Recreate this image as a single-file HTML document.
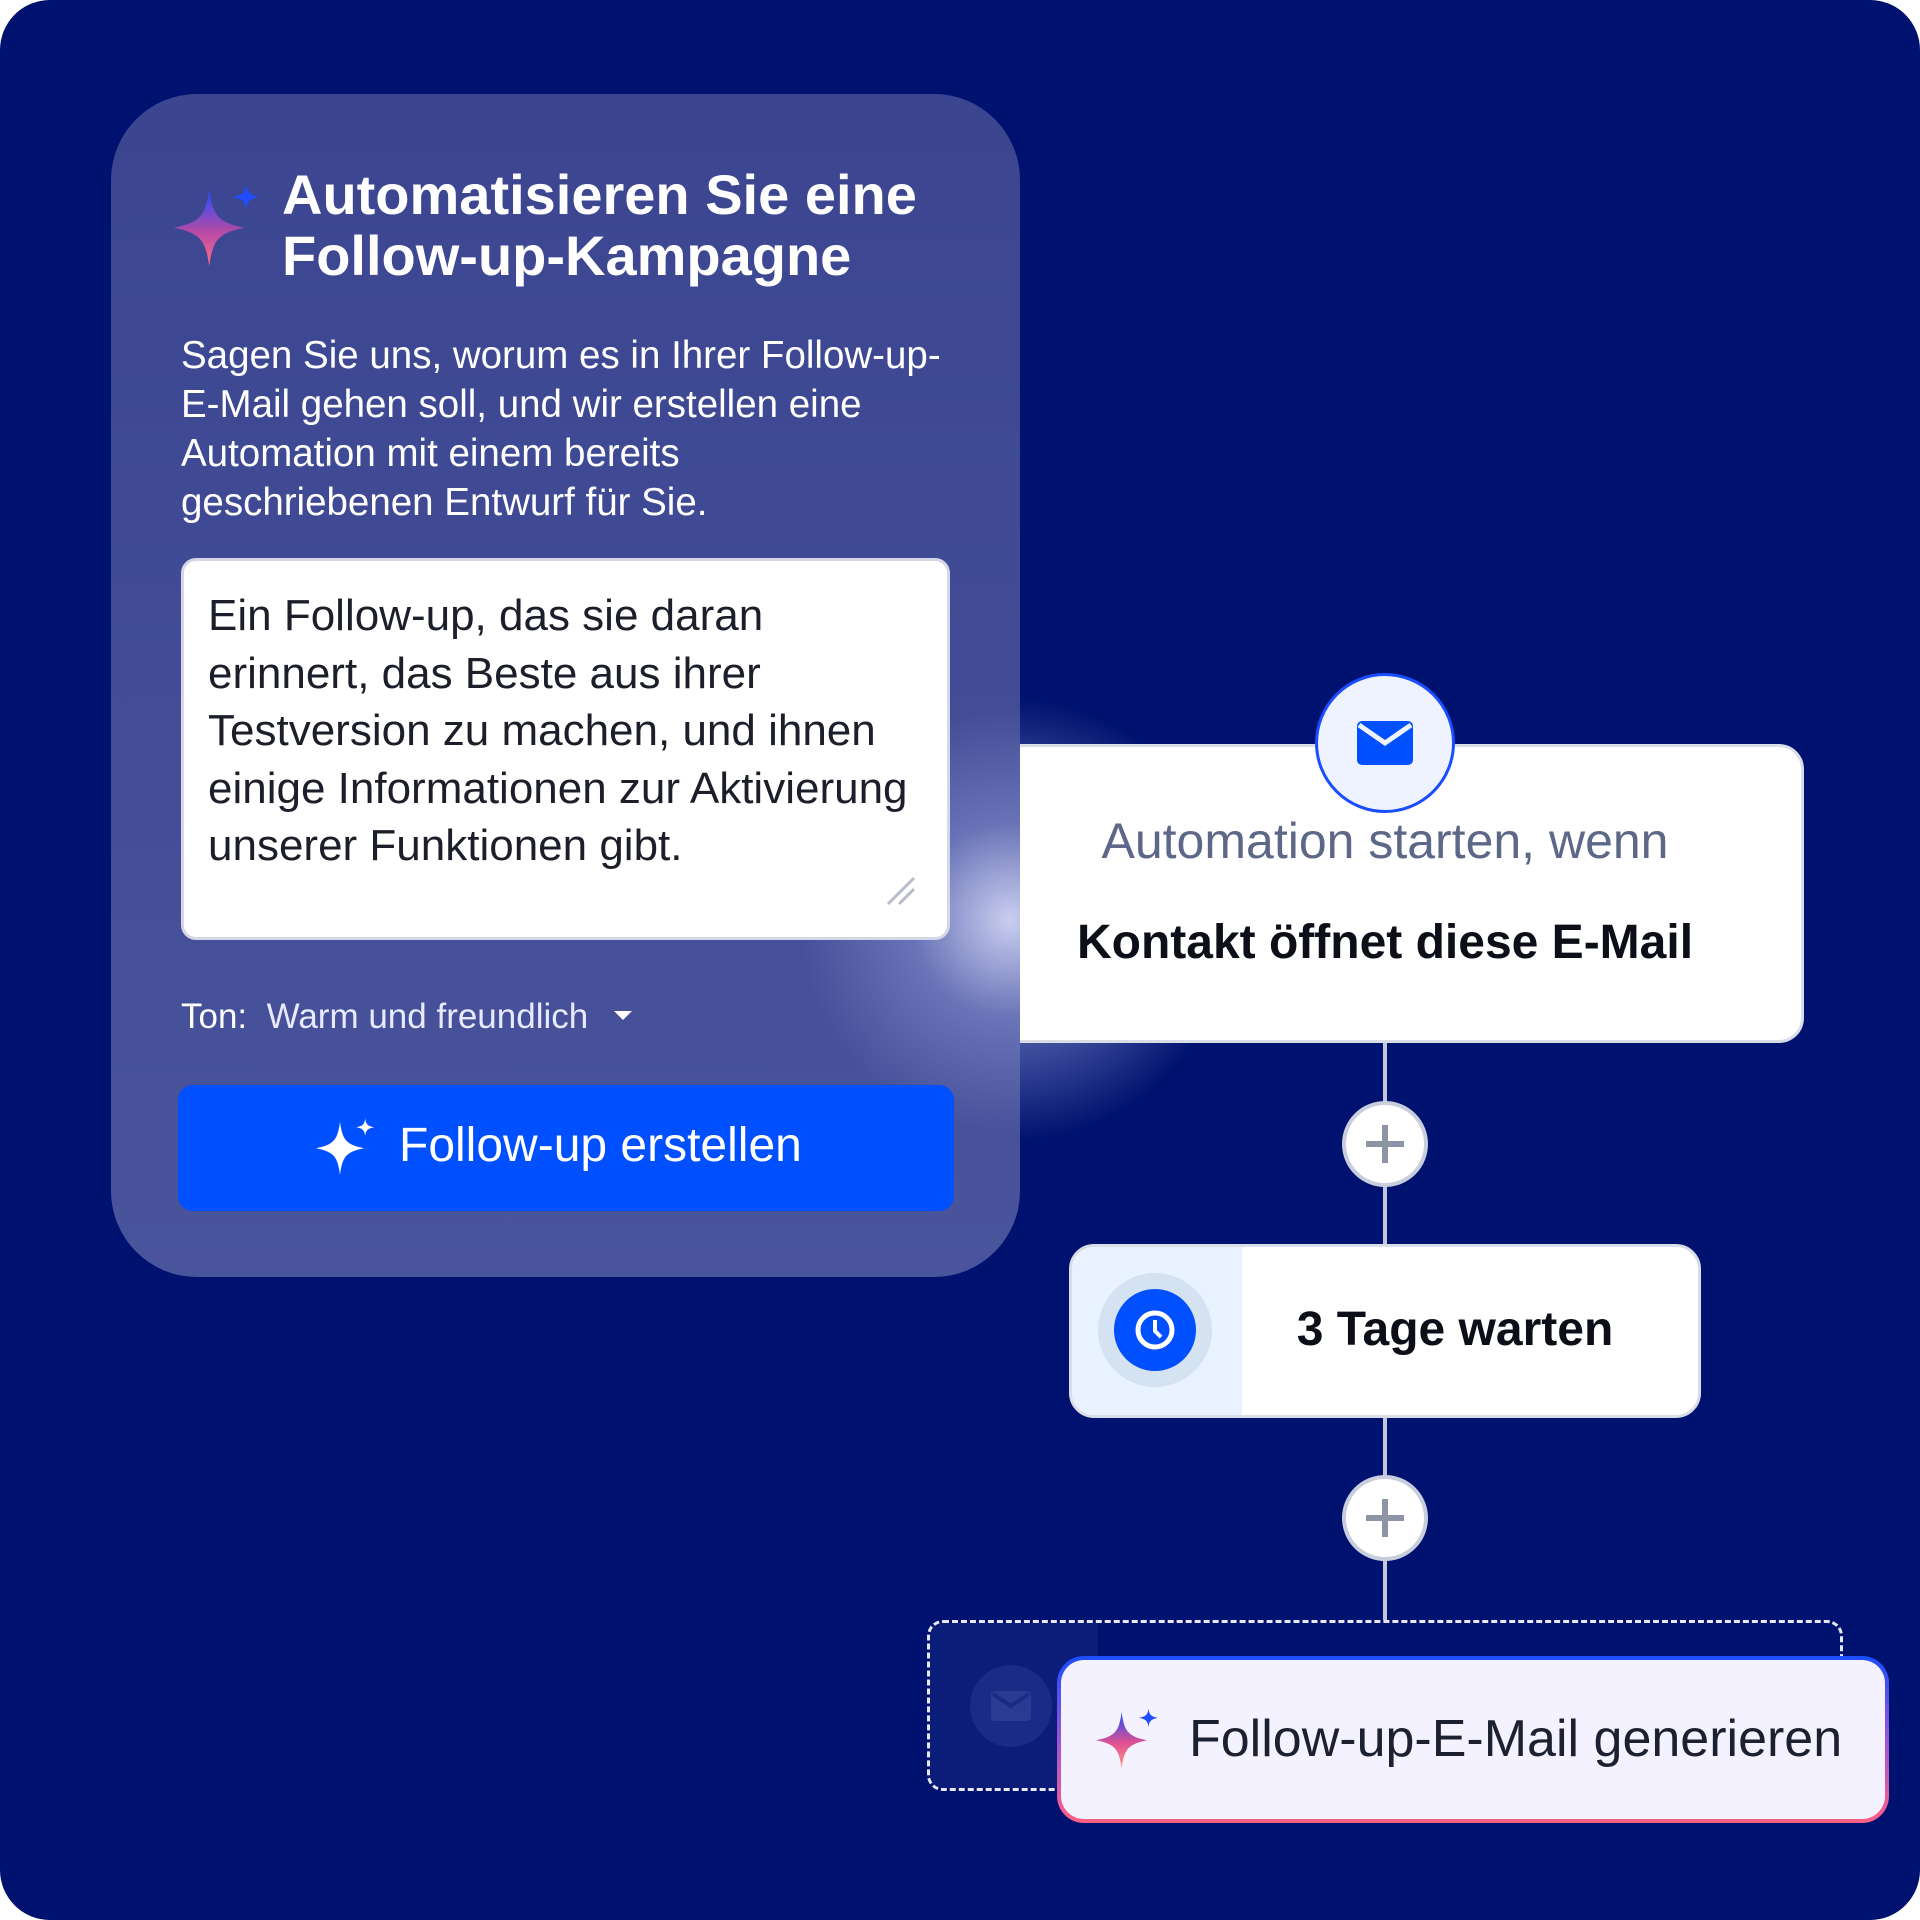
<!DOCTYPE html>
<html><head><meta charset="utf-8"><style>
*{margin:0;padding:0;box-sizing:border-box}
html,body{width:1920px;height:1920px;background:#fff;overflow:hidden}
body{font-family:"Liberation Sans",sans-serif}
.bg{position:absolute;left:0;top:0;width:1920px;height:1920px;background:#00126f;border-radius:50px;overflow:hidden}
.abs{position:absolute}
.panel{left:111px;top:94px;width:909px;height:1183px;border-radius:86px;background:linear-gradient(#3b4590,#49549c);overflow:hidden}
.title{left:282px;top:164px;color:#fff;font-weight:bold;font-size:56px;line-height:61px}
.para{left:181px;top:331px;color:#fff;font-size:38.5px;line-height:49px;width:820px;white-space:nowrap}
.ta{left:181px;top:558px;width:769px;height:382px;background:#fff;border-radius:15px;border:3px solid #d4d8e6}
.tat{left:208px;top:587px;color:#1c1f2a;font-size:44px;line-height:57.5px;width:740px;white-space:nowrap}
.btn{left:178px;top:1085px;width:776px;height:126px;background:#0050ff;border-radius:15px}
.line{background:#c2c7d8;width:4px}
.plus{width:86px;height:86px;border-radius:50%;background:#fff;border:4px solid #c9cedc}
.card{background:#fff;border-radius:25px;border:3px solid #d9dde8}
</style></head><body>
<div class="bg">
 <div class="abs" style="left:780px;top:690px;width:460px;height:460px;border-radius:50%;background:radial-gradient(circle,rgba(235,238,255,.9) 0%,rgba(170,178,235,.5) 30%,rgba(60,70,160,0) 68%)"></div>
 <div class="abs panel"><div style="position:absolute;left:669px;top:596px;width:460px;height:460px;border-radius:50%;background:radial-gradient(circle,rgba(225,228,255,.85) 0%,rgba(150,158,220,.45) 30%,rgba(60,70,160,0) 65%)"></div></div>
 <svg class="abs" style="left:174px;top:182px" width="88" height="88" viewBox="0 0 100 100"><defs><linearGradient id="g1" x1="0" y1="0" x2="0" y2="1"><stop offset="0" stop-color="#1f4dff"/><stop offset=".55" stop-color="#b54aa6"/><stop offset="1" stop-color="#ff6f8a"/></linearGradient></defs><path d="M40 8 C44 38 50 46 80 52 C50 58 44 66 40 96 C36 66 30 58 0 52 C30 46 36 38 40 8Z" fill="url(#g1)"/><path d="M82 2 C83 12 86 15 97 17 C86 19 83 22 82 32 C81 22 78 19 67 17 C78 15 81 12 82 2Z" fill="#1f4dff"/></svg>
 <div class="abs title">Automatisieren Sie eine<br>Follow-up-Kampagne</div>
 <div class="abs para">Sagen Sie uns, worum es in Ihrer Follow-up-<br>E-Mail gehen soll, und wir erstellen eine<br>Automation mit einem bereits<br>geschriebenen Entwurf für Sie.</div>
 <div class="abs ta"></div>
 <div class="abs tat">Ein Follow-up, das sie daran<br>erinnert, das Beste aus ihrer<br>Testversion zu machen, und ihnen<br>einige Informationen zur Aktivierung<br>unserer Funktionen gibt.</div>
 <svg class="abs" style="left:884px;top:874px" width="34" height="34"><path d="M4 30 L30 4 M15 30 L30 15" stroke="#b9bdca" stroke-width="3"/></svg>
 <div class="abs" style="left:181px;top:996px;color:#fff;font-size:35px;line-height:42px;white-space:nowrap">Ton:&nbsp; <span style="color:#e8eaff">Warm und freundlich</span></div>
 <div class="abs" style="left:614px;top:1011px;width:0;height:0;border-left:9px solid transparent;border-right:9px solid transparent;border-top:9px solid #fff"></div>
 <div class="abs btn"></div>
 <svg class="abs" style="left:316px;top:1117px" width="60" height="60" viewBox="0 0 100 100"><path d="M40 8 C44 38 50 46 80 52 C50 58 44 66 40 96 C36 66 30 58 0 52 C30 46 36 38 40 8Z" fill="#fff"/><path d="M82 2 C83 12 86 15 97 17 C86 19 83 22 82 32 C81 22 78 19 67 17 C78 15 81 12 82 2Z" fill="#fff"/></svg>
 <div class="abs" style="left:399px;top:1118px;color:#fff;font-size:48px;line-height:56px;white-space:nowrap">Follow-up erstellen</div>

 <div class="abs line" style="left:1383px;top:1040px;height:580px"></div>

 <div class="abs card" style="left:1020px;top:744px;width:784px;height:299px;border-left:none;border-top-left-radius:0;border-bottom-left-radius:0"></div>
 <div class="abs" style="left:1315px;top:673px;width:140px;height:140px;border-radius:50%;background:#eef3ff;border:3px solid #1a4dff"></div>
 <svg class="abs" style="left:1355px;top:719px" width="60" height="48" viewBox="0 0 60 48"><rect x="2" y="2" width="56" height="44" rx="5" fill="#0050ff"/><path d="M4 6 L30 24 L56 6" stroke="#eef3ff" stroke-width="5" fill="none"/></svg>
 <div class="abs" style="left:985px;top:812px;width:800px;text-align:center;color:#5d6787;font-size:50px;line-height:58px;white-space:nowrap">Automation starten, wenn</div>
 <div class="abs" style="left:985px;top:915px;width:800px;text-align:center;color:#0d0f18;font-size:48px;font-weight:bold;line-height:56px;white-space:nowrap">Kontakt öffnet diese E-Mail</div>

 <div class="abs plus" style="left:1342px;top:1101px"></div>
 <div class="abs" style="left:1366px;top:1141px;width:38px;height:6px;background:#8d94a6"></div>
 <div class="abs" style="left:1382px;top:1125px;width:6px;height:38px;background:#8d94a6"></div>

 <div class="abs card" style="left:1069px;top:1244px;width:632px;height:174px;overflow:hidden"><div style="position:absolute;left:0;top:0;width:170px;height:100%;background:#e9f3ff"></div></div>
 <div class="abs" style="left:1098px;top:1273px;width:114px;height:114px;border-radius:50%;background:#d5e2f1"></div>
 <div class="abs" style="left:1114px;top:1289px;width:82px;height:82px;border-radius:50%;background:#0050ff"></div>
 <svg class="abs" style="left:1133px;top:1308px" width="44" height="44" viewBox="0 0 44 44"><circle cx="22" cy="22" r="17" stroke="#fff" stroke-width="5" fill="none"/><path d="M22 12 L22 23 L28 29" stroke="#fff" stroke-width="4" fill="none"/></svg>
 <div class="abs" style="left:1224px;top:1302px;width:462px;text-align:center;color:#0d0f18;font-size:48px;font-weight:bold;line-height:56px">3 Tage warten</div>

 <div class="abs plus" style="left:1342px;top:1475px"></div>
 <div class="abs" style="left:1366px;top:1515px;width:38px;height:6px;background:#8d94a6"></div>
 <div class="abs" style="left:1382px;top:1499px;width:6px;height:38px;background:#8d94a6"></div>

 <div class="abs" style="left:927px;top:1620px;width:916px;height:171px;border:3px dashed #e6e9f5;border-radius:16px;overflow:hidden"><div style="position:absolute;left:0;top:0;width:168px;height:100%;background:#0c1c79"></div></div>
 <div class="abs" style="left:970px;top:1665px;width:82px;height:82px;border-radius:50%;background:#1a2a86"></div>
 <svg class="abs" style="left:990px;top:1690px" width="42" height="32" viewBox="0 0 42 32"><rect x="1" y="1" width="40" height="30" rx="4" fill="#2b3b93"/><path d="M3 4 L21 16 L39 4" stroke="#1a2a86" stroke-width="4" fill="none"/></svg>

 <div class="abs" style="left:1057px;top:1656px;width:832px;height:167px;border-radius:27px;border:4px solid transparent;background:linear-gradient(#f4f2ff,#f4f2ff) padding-box,linear-gradient(#1a4dff,#9a56d8 50%,#ff5f84) border-box"></div>
 <svg class="abs" style="left:1096px;top:1707px" width="64" height="64" viewBox="0 0 100 100"><defs><linearGradient id="g2" x1="0" y1="0" x2="0" y2="1"><stop offset="0" stop-color="#1f4dff"/><stop offset=".55" stop-color="#e0508f"/><stop offset="1" stop-color="#ff9a8a"/></linearGradient></defs><path d="M40 8 C44 38 50 46 80 52 C50 58 44 66 40 96 C36 66 30 58 0 52 C30 46 36 38 40 8Z" fill="url(#g2)"/><path d="M82 2 C83 12 86 15 97 17 C86 19 83 22 82 32 C81 22 78 19 67 17 C78 15 81 12 82 2Z" fill="#1f4dff"/></svg>
 <div class="abs" style="left:1189px;top:1709px;color:#1d2030;font-size:52px;line-height:60px;white-space:nowrap">Follow-up-E-Mail generieren</div>
</div>
</body></html>
